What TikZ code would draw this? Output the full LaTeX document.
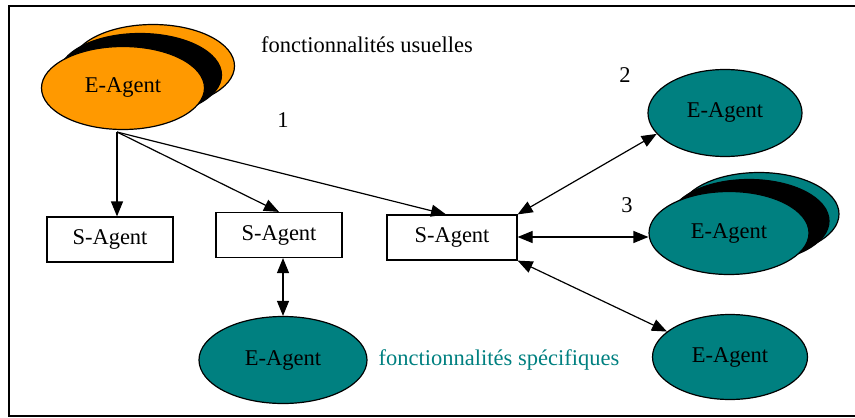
\documentclass[tikz,border=0pt]{standalone}
\usepackage{fontspec}
\setmainfont{Liberation Serif}
\usetikzlibrary{shapes.geometric,arrows.meta}
\definecolor{agorange}{HTML}{FF9900}
\definecolor{agteal}{HTML}{008080}

\begin{document}
\begin{tikzpicture}[x=0.5pt, y=-0.5pt, font=\fontsize{11.25}{13}\selectfont]
        \tikzstyle{eagent}=[draw, ellipse, fill=agteal, line width=0.6pt, minimum width=78pt, minimum height=43pt, inner sep=0pt]
        \tikzstyle{sagent}=[draw, rectangle, fill=white, line width=0.6pt, minimum width=63pt, minimum height=22.5pt]
        \tikzstyle{link}=[line width=0.6pt, -{Triangle[length=7.5pt,width=6pt]}]
        \tikzstyle{both}=[line width=0.6pt, {Triangle[length=7.5pt,width=6pt]}-{Triangle[length=7.5pt,width=6pt]}]

        \useasboundingbox (0,0) rectangle (855,417);
        \draw[line width=1pt] (870,6.5) -- (9,6.5) -- (9,416) -- (870,416);

        % usual agent, stacked
        \node[eagent, fill=agorange, minimum width=81.5pt, minimum height=41.5pt] (usual3) at (153,66) {};
        \node[eagent, fill=black, minimum width=81.5pt, minimum height=41.5pt] (usual2) at (140,75) {};
        \node[eagent, fill=agorange, minimum width=81.5pt, minimum height=41.5pt] (usual) at (123,88) {E-Agent};
        \node (usualtxt) at (367,45) {fonctionnalités usuelles};
        \coordinate (src) at (117,132);

        % service agents
        \node[sagent] (sa1) at (110,239.5) {S-Agent};
        \node[sagent] (sa2) at (279,235) {S-Agent};
        \node[sagent, minimum width=65pt] (sa3) at (452,237.5) {S-Agent};

        % specific agents
        \node[eagent, minimum width=77pt, minimum height=43.5pt] (ea2) at (725,113) {E-Agent};
        \node[eagent, minimum width=80pt, minimum height=41.5pt] (ea3c) at (759,214) {};
        \node[eagent, fill=black, minimum width=80pt, minimum height=41.5pt] (ea3b) at (749,221) {};
        \node[eagent, minimum width=80pt, minimum height=41.5pt] (ea3) at (729,233) {E-Agent};
        \node[eagent, minimum width=77.5pt, minimum height=42.5pt] (ea4) at (730,357) {E-Agent};
        \node[eagent, minimum width=84pt, minimum height=43.5pt] (ea5) at (283,360) {E-Agent};
        \node[text=agteal] (spectxt) at (499,360) {fonctionnalités spécifiques};

        \node (n1) at (283,120) {1};
        \node (n2) at (625,75) {2};
        \node (n3) at (627,205) {3};

        \draw[link] (src) -- (src |- sa1.north);
        \draw[link] (src) -- (sa2.north);
        \draw[link] (src) -- ([xshift=-3pt]sa3.north);
        \draw[both] (sa3.north east) -- (ea2.197);
        \draw[both] (sa3.east |- 0,237) -- (ea3.west |- 0,237);
        \draw[both] (sa3.south east) -- (ea4.158);
        \draw[both] (sa2.south -| ea5.north) -- (ea5.north);
\end{tikzpicture}
\end{document}
